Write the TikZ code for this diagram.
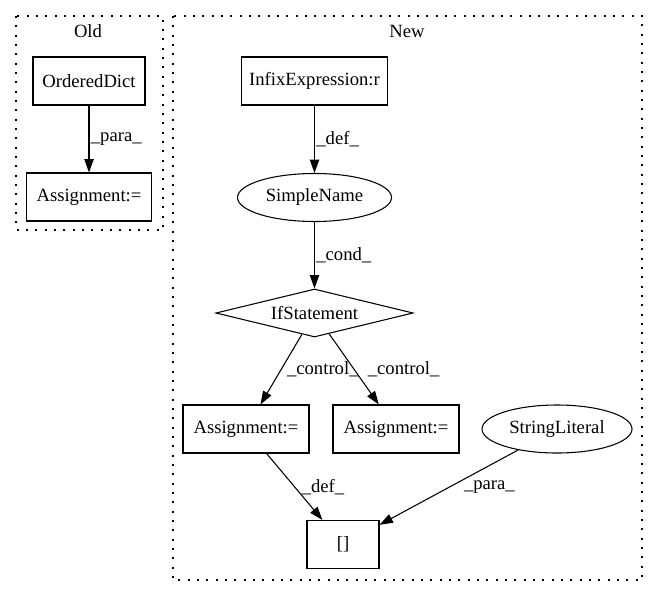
\documentclass[tikz,border=0pt]{standalone}
\usepackage{fontspec}
\setmainfont{Liberation Serif}
\usepackage{tikz}
\usetikzlibrary{arrows.meta,shapes.geometric}
\tikzset{
  every node/.style={font=\fontsize{14}{16}\selectfont},
  box/.style={draw, rectangle, line width=0.8pt, inner sep=0pt, minimum height=36pt},
  oval/.style={draw, ellipse, line width=0.8pt, inner sep=0pt, minimum height=36pt},
  cond/.style={draw, diamond, shape aspect=4.1, line width=0.8pt, inner sep=0pt, minimum width=148pt, minimum height=36pt},
  cluster/.style={line width=0.9pt, dash pattern=on 1.5pt off 5.5pt},
  edge/.style={line width=0.8pt, -{Triangle[length=10pt,width=7pt]}},
  lbl/.style={anchor=west, inner sep=1pt}
}
\begin{document}
\begin{tikzpicture}[x=0.75pt,y=-0.75pt]
      \useasboundingbox (0,0) rectangle (659,596);
      \begin{scope}
        \draw[cluster] (16,16) rectangle (163,230);
        \node (oldlbl) at (88,31) {Old};
        \node[box, minimum width=84pt] (odict) at (89,81) {OrderedDict};
        \node[box, minimum width=94pt] (oldasg) at (89,197) {Assignment:=};
      \end{scope}
      \begin{scope}
        \draw[cluster] (173,16) rectangle (642,580);
        \node (newlbl) at (407,31) {New};
        \node[box, minimum width=110pt] (infix) at (314.5,81) {InfixExpression:r};
        \node[oval, minimum width=115.5pt] (sname) at (314.5,197.5) {SimpleName};
        \node[cond] (ifst) at (314.5,313) {IfStatement};
        \node[box, minimum width=94.5pt] (asgl) at (246,429) {Assignment:=};
        \node[box, minimum width=94.5pt] (asgm) at (396,429) {Assignment:=};
        \node[oval, minimum width=112.5pt] (strlit) at (557,429) {StringLiteral};
        \node[box, minimum width=54pt] (arr) at (343,544.5) {[]};
      \end{scope}
      \draw[edge] (odict) -- node[lbl] {\_para\_} (oldasg);
      \draw[edge] (infix) -- node[lbl] {\_def\_} (sname);
      \draw[edge] (sname) -- node[lbl] {\_cond\_} (ifst);
      \draw[edge] (ifst) -- node[lbl, xshift=3pt] {\_control\_} (asgl);
      \draw[edge] (ifst) -- node[lbl, xshift=9pt] {\_control\_} (asgm);
      \draw[edge] (asgl) -- node[lbl, xshift=4pt] {\_def\_} (arr);
      \draw[edge] (strlit) -- node[lbl, xshift=10pt] {\_para\_} (arr);
    \end{tikzpicture}
\end{document}
